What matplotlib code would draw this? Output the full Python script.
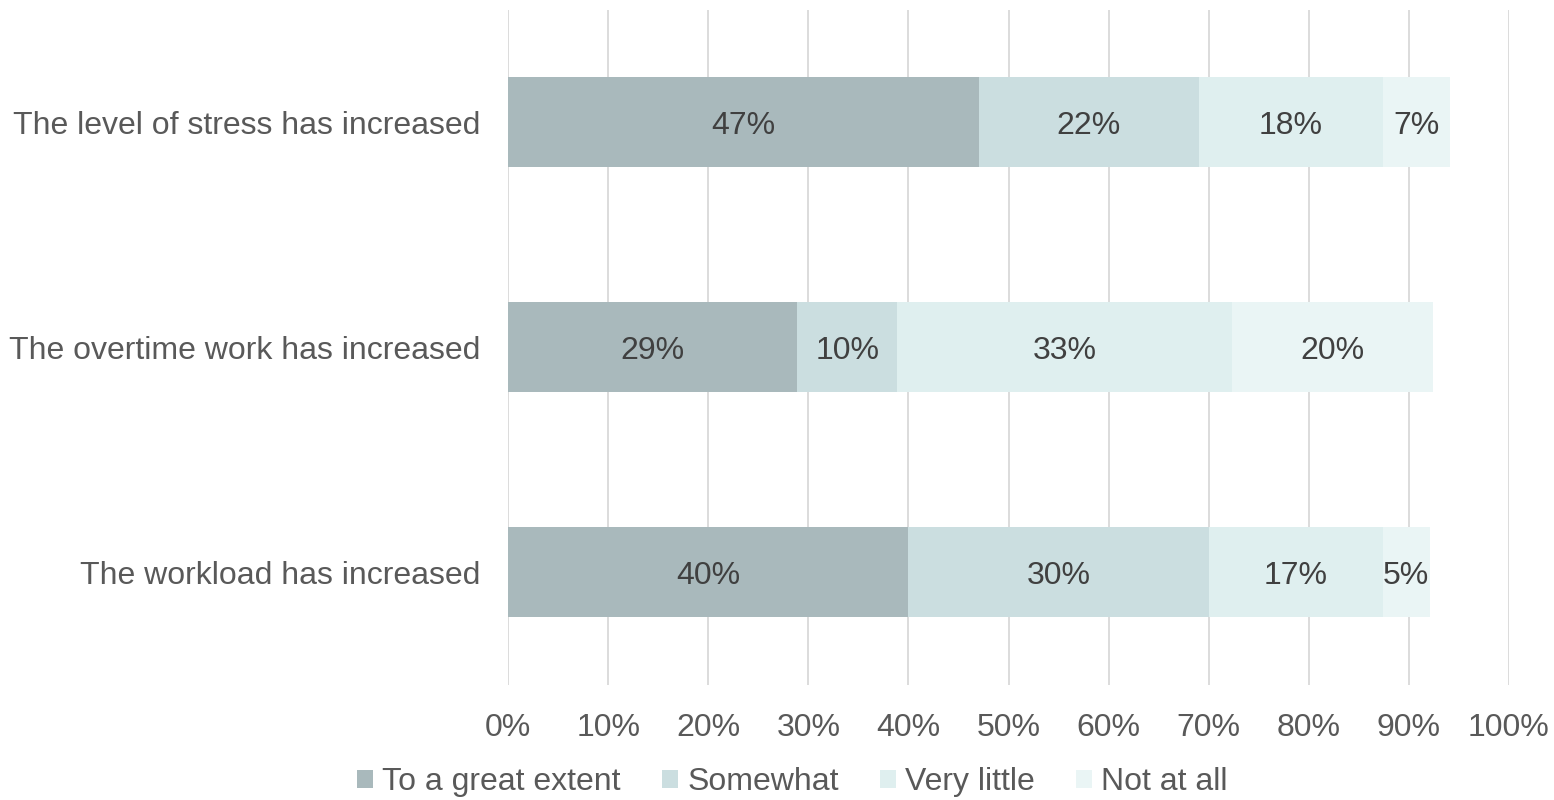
"""Stacked horizontal bar chart of workload / overtime / stress answers
"""
import matplotlib
matplotlib.use('Agg')
import matplotlib.pyplot as plt
from matplotlib.patches import Patch
from matplotlib.ticker import FuncFormatter

plt.rcParams['font.family'] = ['Liberation Sans', 'DejaVu Sans']

# Rows, top to bottom
categories = [
    'The level of stress has increased',
    'The overtime work has increased',
    'The workload has increased',
]

# Answer shares in percent (bar lengths)
great_extent = [47.0, 28.9, 40.0]
somewhat = [22.0, 10.0, 30.0]
very_little = [18.4, 33.4, 17.4]
not_at_all = [6.7, 20.1, 4.7]

# Labels printed inside the bars
great_extent_labels = ['47%', '29%', '40%']
somewhat_labels = ['22%', '10%', '30%']
very_little_labels = ['18%', '33%', '17%']
not_at_all_labels = ['7%', '20%', '5%']

series_names = ['To a great extent', 'Somewhat', 'Very little', 'Not at all']
colors = ['#A9B9BC', '#CBDEE0', '#DFEFEF', '#EAF5F5']

fig = plt.figure(figsize=(15.54, 8), dpi=100)
ax = fig.add_axes([0.327, 0.144, 0.644, 0.8435])

series = [great_extent, somewhat, very_little, not_at_all]
labels = [great_extent_labels, somewhat_labels, very_little_labels, not_at_all_labels]

y_pos = list(range(len(categories)))
left = [0.0] * len(categories)
for values, texts, color in zip(series, labels, colors):
    bars = ax.barh(y_pos, values, left=left, height=0.4, color=color, zorder=2)
    for bar, txt in zip(bars, texts):
        ax.text(
            bar.get_x() + bar.get_width() / 2,
            bar.get_y() + bar.get_height() / 2,
            txt,
            ha='center',
            va='center_baseline',
            fontsize=23,
            color='#404040',
            zorder=3,
        )
    left = [l + v for l, v in zip(left, values)]

ax.set_xlim(0, 100)
ax.set_ylim(len(categories) - 0.5, -0.5)
ax.set_xticks(range(0, 101, 10))
ax.xaxis.set_major_formatter(FuncFormatter(lambda v, _: f'{int(v)}%'))
ax.set_yticks(y_pos)
ax.set_yticklabels(categories)

ax.grid(axis='x', color='#D9D9D9', linewidth=1.3, zorder=0)
for side in ['top', 'right', 'bottom', 'left']:
    ax.spines[side].set_visible(False)

ax.tick_params(axis='both', length=0, labelsize=23, colors='#595959')
ax.tick_params(axis='y', pad=20)
ax.tick_params(axis='x', pad=20)

# Legend with small square markers
handles = [Patch(facecolor=c, edgecolor='none') for c in colors]
fig.legend(
    handles,
    series_names,
    loc='center',
    bbox_to_anchor=(0.51, 0.022),
    ncol=4,
    frameon=False,
    fontsize=23,
    labelcolor='#595959',
    handlelength=0.5,
    handleheight=0.5,
    handletextpad=0.28,
    columnspacing=1.3,
)

fig.savefig('out.png', dpi=100)
